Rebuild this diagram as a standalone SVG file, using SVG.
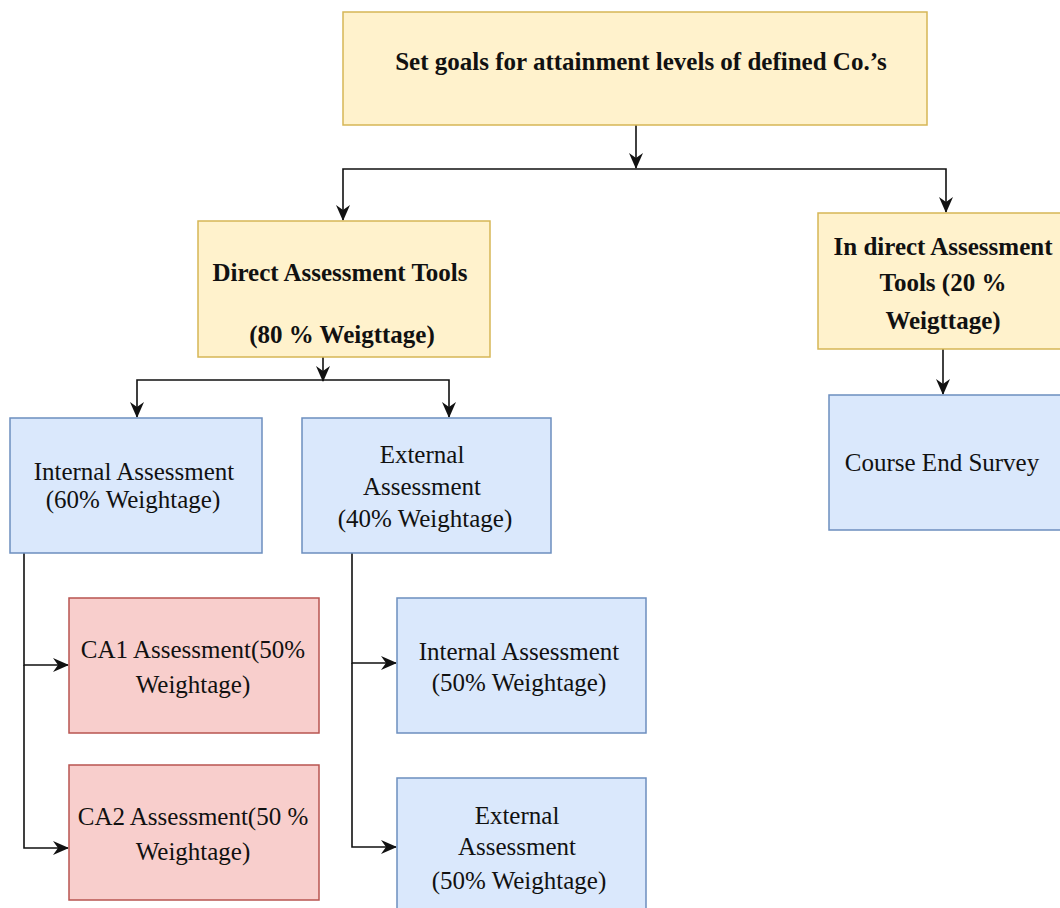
<svg xmlns="http://www.w3.org/2000/svg" width="1060" height="908" viewBox="0 0 1060 908">
  <style>
    .yellow { fill: #fff2cc; stroke: #d6b656; stroke-width: 1.5; }
    .blue { fill: #dae8fc; stroke: #6c8ebf; stroke-width: 1.5; }
    .red { fill: #f8cecc; stroke: #b85450; stroke-width: 1.5; }
    text { font-family: "Liberation Serif", "Times New Roman", serif; font-size: 25px; fill: #111; text-anchor: middle; }
    .b { font-weight: bold; }
    .edge { fill: none; stroke: #111; stroke-width: 1.6; }
  </style>
  <defs>
    <marker id="arrow" viewBox="0 0 16 16" refX="15" refY="8" markerWidth="16" markerHeight="16" markerUnits="userSpaceOnUse" orient="auto">
      <path d="M0,1 L16,8 L0,15 L5,8 Z" fill="#111"/>
    </marker>
  </defs>

  <g id="connectors">
    <path class="edge" d="M636,125 V168" marker-end="url(#arrow)"/>
    <path class="edge" d="M636,169 H343 V220" marker-end="url(#arrow)"/>
    <path class="edge" d="M636,169 H946 V212" marker-end="url(#arrow)"/>
    <path class="edge" d="M323,357 V381" marker-end="url(#arrow)"/>
    <path class="edge" d="M323,380 H137 V417" marker-end="url(#arrow)"/>
    <path class="edge" d="M323,380 H449 V417" marker-end="url(#arrow)"/>
    <path class="edge" d="M943,349 V394" marker-end="url(#arrow)"/>
    <path class="edge" d="M24,553 V665 H68" marker-end="url(#arrow)"/>
    <path class="edge" d="M24,665 V848 H68" marker-end="url(#arrow)"/>
    <path class="edge" d="M352,553 V663 H396" marker-end="url(#arrow)"/>
    <path class="edge" d="M352,663 V847 H396" marker-end="url(#arrow)"/>
  </g>

  <g id="set-goals">
    <rect class="yellow" x="343" y="12" width="584" height="113"/>
    <text class="b" x="641" y="70">Set goals for attainment levels of defined Co.’s</text>
  </g>

  <g id="direct-tools">
    <rect class="yellow" x="198" y="221" width="292" height="136"/>
    <text class="b" x="340" y="281">Direct Assessment Tools</text>
    <text class="b" x="342" y="343">(80 % Weigttage)</text>
  </g>

  <g id="indirect-tools">
    <rect class="yellow" x="818" y="213" width="250" height="136"/>
    <text class="b" x="943" y="255">In direct Assessment</text>
    <text class="b" x="943" y="291">Tools (20 %</text>
    <text class="b" x="943" y="329">Weigttage)</text>
  </g>

  <g id="internal-60">
    <rect class="blue" x="10" y="418" width="252" height="135"/>
    <text x="134" y="480">Internal Assessment</text>
    <text x="133" y="508">(60% Weightage)</text>
  </g>

  <g id="external-40">
    <rect class="blue" x="302" y="418" width="249" height="135"/>
    <text x="422" y="463">External</text>
    <text x="422" y="495">Assessment</text>
    <text x="425" y="527">(40% Weightage)</text>
  </g>

  <g id="course-end-survey">
    <rect class="blue" x="829" y="395" width="240" height="135"/>
    <text x="942" y="471">Course End Survey</text>
  </g>

  <g id="ca1">
    <rect class="red" x="69" y="598" width="250" height="135"/>
    <text x="193" y="658">CA1 Assessment(50%</text>
    <text x="193" y="693">Weightage)</text>
  </g>

  <g id="ca2">
    <rect class="red" x="69" y="765" width="250" height="135"/>
    <text x="193" y="825">CA2 Assessment(50 %</text>
    <text x="193" y="860">Weightage)</text>
  </g>

  <g id="internal-50">
    <rect class="blue" x="397" y="598" width="249" height="135"/>
    <text x="519" y="660">Internal Assessment</text>
    <text x="519" y="691">(50% Weightage)</text>
  </g>

  <g id="external-50">
    <rect class="blue" x="397" y="778" width="249" height="140"/>
    <text x="517" y="824">External</text>
    <text x="517" y="855">Assessment</text>
    <text x="519" y="889">(50% Weightage)</text>
  </g>
</svg>
